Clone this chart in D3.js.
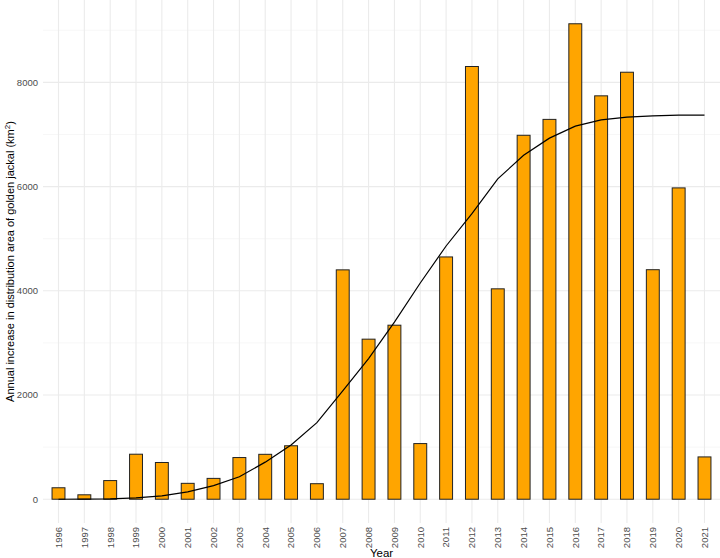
<!DOCTYPE html>
<html>
<head>
<meta charset="utf-8">
<script src="https://cdn.jsdelivr.net/npm/d3@7"></script>
<style>
  html, body { margin: 0; padding: 0; background: #ffffff; }
  svg { display: block; }
  text { font-family: "Liberation Sans", Arial, sans-serif; }
</style>
</head>
<body>
<svg id="chart" width="720" height="558"></svg>
<script>
const years = ["1996","1997","1998","1999","2000","2001","2002","2003","2004","2005","2006","2007","2008","2009","2010","2011","2012","2013","2014","2015","2016","2017","2018","2019","2020","2021"];
const annualIncrease = [220, 85, 358, 864, 705, 305, 400, 800, 862, 1026, 298, 4402, 3072, 3340, 1068, 4650, 8305, 4038, 6985, 7290, 9125, 7742, 8195, 4405, 5975, 812];
const fittedCurve = [0, 2, 8, 26, 65, 140, 262, 430, 712, 1040, 1470, 2080, 2700, 3400, 4150, 4860, 5480, 6150, 6600, 6930, 7160, 7280, 7335, 7358, 7370, 7372];
const yTicksMajor = [0, 2000, 4000, 6000, 8000];
const yTicksMinor = [1000, 3000, 5000, 7000, 9000];
const xTitle = "Year";
const yTitle = "Annual increase in distribution area of golden jackal (km";

const svg = d3.select("#chart");
const panel = { left: 43, right: 720, top: 0, bottom: 523 };

const x = d3.scalePoint().domain(years).range([panel.left, panel.right]).padding(0.6);
const yMax = d3.max(annualIncrease);
const pad = 0.05 * yMax;
const y = d3.scaleLinear().domain([-pad, yMax + pad]).range([panel.bottom, panel.top]);

// minor grid
svg.append("g").selectAll("line").data(yTicksMinor).join("line")
  .attr("x1", panel.left).attr("x2", panel.right)
  .attr("y1", d => y(d)).attr("y2", d => y(d))
  .attr("stroke", "#f2f2f2").attr("stroke-width", 0.6);
// major grid horizontal
svg.append("g").selectAll("line").data(yTicksMajor).join("line")
  .attr("x1", panel.left).attr("x2", panel.right)
  .attr("y1", d => y(d)).attr("y2", d => y(d))
  .attr("stroke", "#ebebeb").attr("stroke-width", 1.1);
// major grid vertical
svg.append("g").selectAll("line").data(years).join("line")
  .attr("x1", d => x(d)).attr("x2", d => x(d))
  .attr("y1", panel.top).attr("y2", panel.bottom)
  .attr("stroke", "#ebebeb").attr("stroke-width", 1.1);

// bars
const bw = x.step() * 0.5;
svg.append("g").selectAll("rect").data(years).join("rect")
  .attr("x", d => x(d) - bw / 2)
  .attr("width", bw)
  .attr("y", (d, i) => y(annualIncrease[i]))
  .attr("height", (d, i) => y(0) - y(annualIncrease[i]))
  .attr("fill", "#FFA500")
  .attr("stroke", "#222222")
  .attr("stroke-width", 1);

// fitted curve
const line = d3.line().x((d, i) => x(years[i])).y(d => y(d));
svg.append("path").datum(fittedCurve)
  .attr("d", line)
  .attr("fill", "none")
  .attr("stroke", "#000000")
  .attr("stroke-width", 1.2);

// y axis labels
svg.append("g").selectAll("text").data(yTicksMajor).join("text")
  .attr("x", 38).attr("y", d => y(d))
  .attr("dy", "0.35em")
  .attr("text-anchor", "end")
  .attr("font-size", 9.5)
  .attr("fill", "#4d4d4d")
  .text(d => d);

// x axis labels rotated
svg.append("g").selectAll("text").data(years).join("text")
  .attr("transform", d => `translate(${x(d)},527) rotate(-90)`)
  .attr("dy", "0.35em")
  .attr("text-anchor", "end")
  .attr("font-size", 9.5)
  .attr("fill", "#4d4d4d")
  .text(d => d);

// x title
svg.append("text")
  .attr("x", (panel.left + panel.right) / 2)
  .attr("y", 556.5)
  .attr("text-anchor", "middle")
  .attr("font-size", 11.5)
  .attr("fill", "#000")
  .text(xTitle);

// y title with superscript
const yt = svg.append("text")
  .attr("transform", `translate(14,${(panel.top + panel.bottom) / 2}) rotate(-90)`)
  .attr("text-anchor", "middle")
  .attr("font-size", 11)
  .attr("fill", "#000");
yt.append("tspan").text(yTitle);
yt.append("tspan").attr("font-size", 8).attr("dy", -4.5).text("2");
yt.append("tspan").attr("dy", 4.5).text(")");
</script>
</body>
</html>
